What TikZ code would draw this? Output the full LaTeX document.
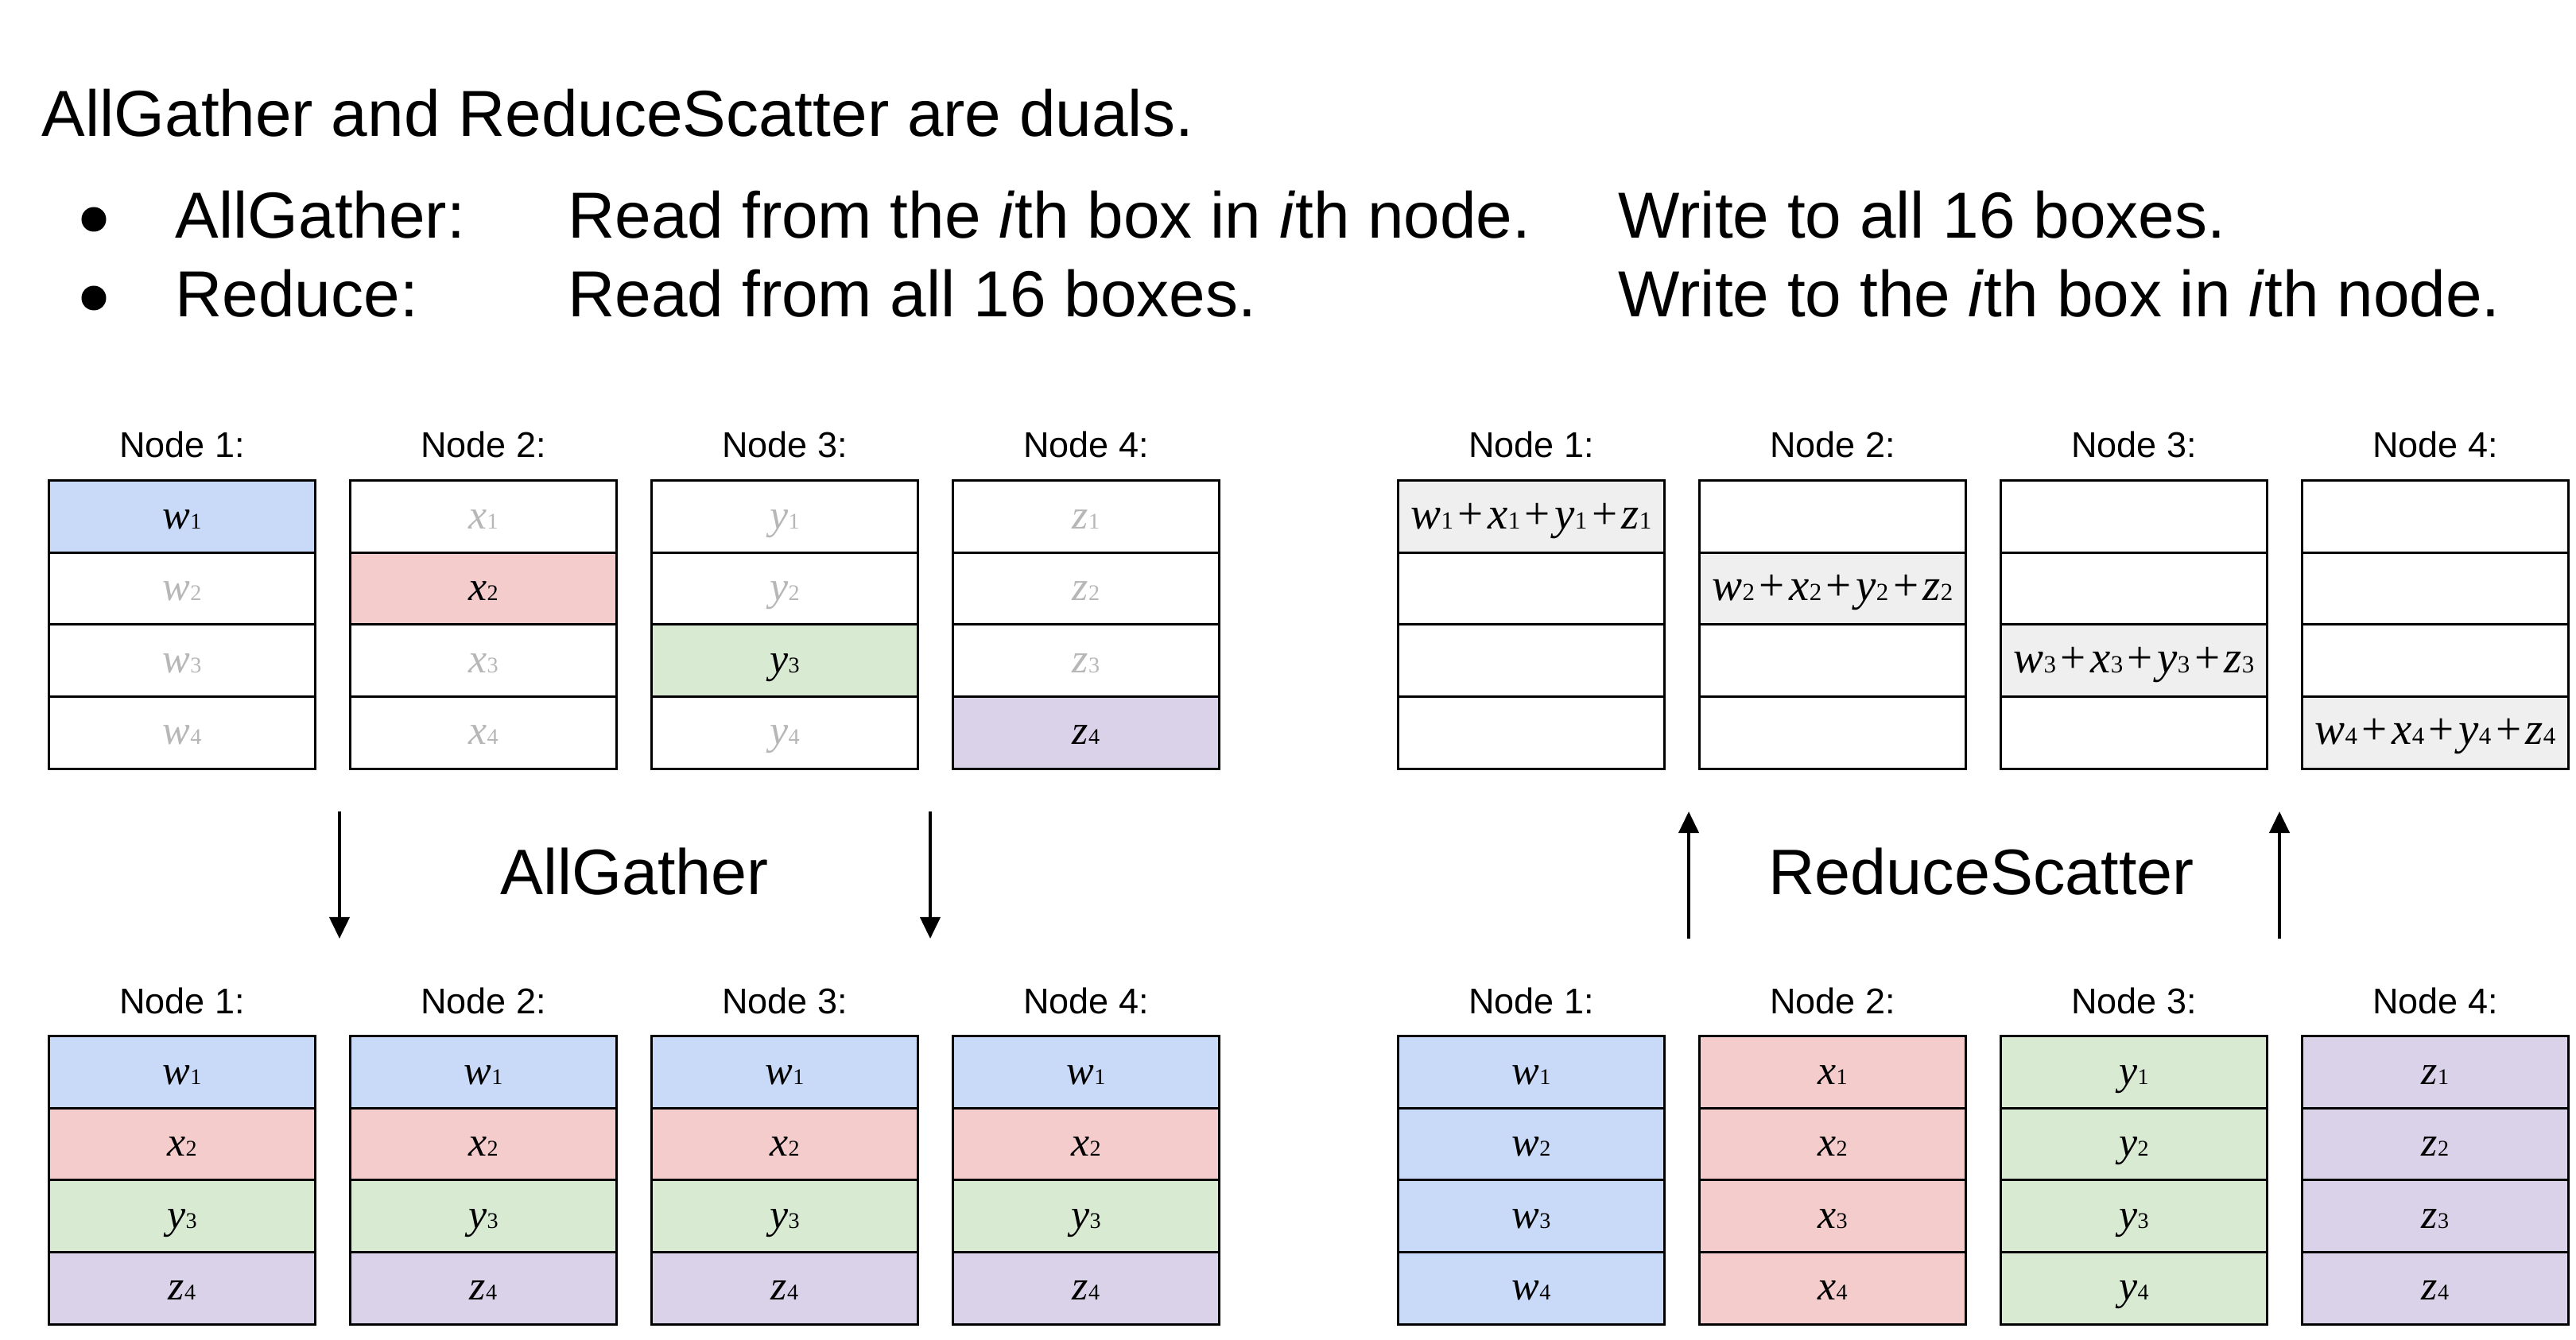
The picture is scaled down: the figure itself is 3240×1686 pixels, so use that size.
\documentclass[tikz,border=0pt]{standalone}
\usepackage{fontspec}
\setmainfont{Liberation Sans}
\newfontfamily\serifmath{Liberation Serif}
\usetikzlibrary{arrows.meta}
\definecolor{cblue}{HTML}{C9DAF8}
\definecolor{cred}{HTML}{F4CCCC}
\definecolor{cgreen}{HTML}{D9EAD3}
\definecolor{cpurple}{HTML}{D9D2E9}
\definecolor{cgray}{HTML}{EFEFEF}
\definecolor{faded}{HTML}{B7B7B7}
\newcommand\vr[2]{{\serifmath\fontsize{14.8pt}{16pt}\selectfont\itshape #1}{\serifmath\fontsize{8pt}{9pt}\selectfont #2}}
\newcommand\vs[2]{{\serifmath\fontsize{16.2pt}{18pt}\selectfont\itshape #1}{\serifmath\fontsize{8.8pt}{10pt}\selectfont #2}}
\newcommand\pl{\hspace{1.6pt}{\serifmath\fontsize{16.2pt}{18pt}\selectfont +}\hspace{1.6pt}}
\newcommand\sumv[1]{\vs{w}{#1}\pl\vs{x}{#1}\pl\vs{y}{#1}\pl\vs{z}{#1}}
\tikzset{
  cell/.style={draw=black, line width=0.85pt, minimum width=3.34cm, minimum height=0.905cm,
    inner sep=0pt, text height=0.3cm, text depth=0cm, fill=white},
  lab/.style={anchor=base, inner sep=0pt, font=\fontsize{12.8pt}{15pt}\selectfont},
  big/.style={anchor=base west, inner sep=0pt, font=\fontsize{23.3pt}{28pt}\selectfont},
  op/.style={anchor=base, inner sep=0pt, font=\fontsize{23pt}{28pt}\selectfont},
  arr/.style={line width=1.15pt, -{Triangle[length=0.27cm,width=0.25cm]}},
  bullet/.style={circle, fill=black, inner sep=0pt, minimum size=0.31cm}
}
\begin{document}
\begin{tikzpicture}[x=0.01cm, y=-0.01cm]
\useasboundingbox (0,0) rectangle (3240,1686);
\fill[white] (0,0) rectangle (3240,1686);
% header text
\node[big] (title) at (52,172) {AllGather and ReduceScatter are duals.};
\node[bullet] (b1) at (118,276) {};
\node[bullet] (b2) at (118,375) {};
\node[big] (l1a) at (220,300) {AllGather:};
\node[big] (l1b) at (714,300) {Read from the \textit{i}th box in \textit{i}th node.};
\node[big] (l1c) at (2035,300) {Write to all 16 boxes.};
\node[big] (l2a) at (220,399) {Reduce:};
\node[big] (l2b) at (714,399) {Read from all 16 boxes.};
\node[big] (l2c) at (2035,399) {Write to the \textit{i}th box in \textit{i}th node.};
% top-left: before AllGather
\foreach \c/\L/\C in {1/w/cblue,2/x/cred,3/y/cgreen,4/z/cpurple} {
  \node[lab] (agTlab\c) at ({229+379*(\c-1)},576) {Node \c:};
  \foreach \r in {1,2,3,4} {
    \ifnum\r=\c
      \node[cell, fill=\C] (agT\c\r) at ({229+379*(\c-1)},{650.25+90.5*(\r-1)}) {\vr{\L}{\r}};
    \else
      \node[cell, text=faded] (agT\c\r) at ({229+379*(\c-1)},{650.25+90.5*(\r-1)}) {\vr{\L}{\r}};
    \fi
  }
}
% bottom-left: after AllGather
\foreach \c in {1,2,3,4} {
  \node[lab] (agBlab\c) at ({229+379*(\c-1)},1275) {Node \c:};
  \foreach \r/\L/\C in {1/w/cblue,2/x/cred,3/y/cgreen,4/z/cpurple} {
    \node[cell, fill=\C] (agB\c\r) at ({229+379*(\c-1)},{1349.25+90.5*(\r-1)}) {\vr{\L}{\r}};
  }
}
% top-right: after ReduceScatter
\foreach \c in {1,2,3,4} {
  \node[lab] (rsTlab\c) at ({1926+379*(\c-1)},576) {Node \c:};
  \foreach \r in {1,2,3,4} {
    \ifnum\r=\c
      \node[cell, fill=cgray] (rsT\c\r) at ({1926+379*(\c-1)},{650.25+90.5*(\r-1)}) {\sumv{\r}};
    \else
      \node[cell] (rsT\c\r) at ({1926+379*(\c-1)},{650.25+90.5*(\r-1)}) {};
    \fi
  }
}
% bottom-right: before ReduceScatter
\foreach \c/\L/\C in {1/w/cblue,2/x/cred,3/y/cgreen,4/z/cpurple} {
  \node[lab] (rsBlab\c) at ({1926+379*(\c-1)},1275) {Node \c:};
  \foreach \r in {1,2,3,4} {
    \node[cell, fill=\C] (rsB\c\r) at ({1926+379*(\c-1)},{1349.25+90.5*(\r-1)}) {\vr{\L}{\r}};
  }
}
% operation labels and arrows
\node[op] (agop) at (798,1125) {AllGather};
\node[op] (rsop) at (2492,1125) {ReduceScatter};
\coordinate (ag1s) at (427,1021);
\coordinate (ag1e) at (427,1181);
\coordinate (ag2s) at (1170,1021);
\coordinate (ag2e) at (1170,1181);
\coordinate (rs1s) at (2124,1181);
\coordinate (rs1e) at (2124,1021);
\coordinate (rs2s) at (2867,1181);
\coordinate (rs2e) at (2867,1021);
\draw[arr] (ag1s) -- (ag1e);
\draw[arr] (ag2s) -- (ag2e);
\draw[arr] (rs1s) -- (rs1e);
\draw[arr] (rs2s) -- (rs2e);
\end{tikzpicture}
\end{document}
